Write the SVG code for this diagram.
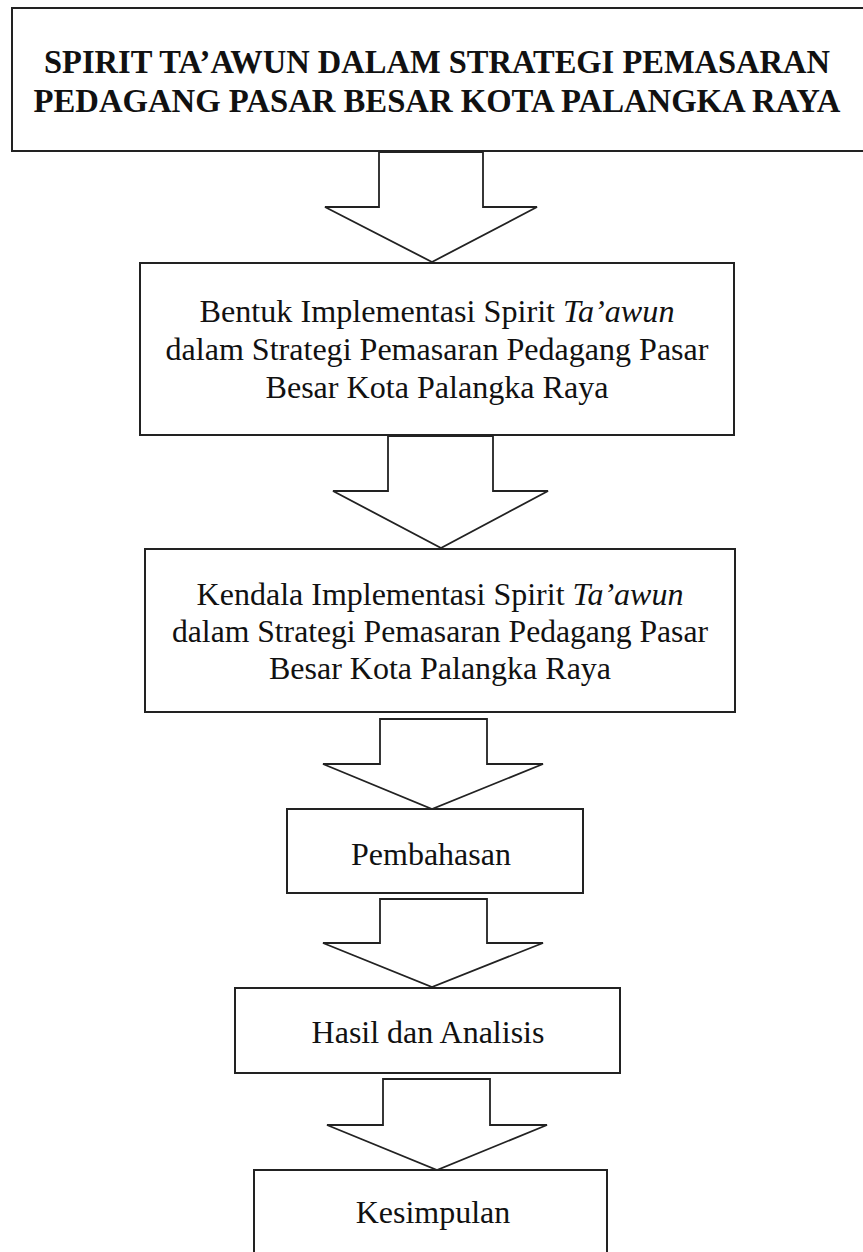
<svg xmlns="http://www.w3.org/2000/svg" width="863" height="1252" viewBox="0 0 863 1252">
<style>
.box{fill:#fff;stroke:#222;stroke-width:2}
.arr{fill:#fff;stroke:#222;stroke-width:1.8;stroke-linejoin:miter}
.t{font-family:"Liberation Serif","Times New Roman",serif;font-size:32px;fill:#111;text-anchor:middle}
.tb{font-family:"Liberation Serif","Times New Roman",serif;font-size:33.5px;font-weight:bold;fill:#111;text-anchor:middle}
.i{font-style:italic}
</style>
<rect x="0" y="0" width="863" height="1252" fill="#fff"/>
<g id="connectors">
<polygon class="arr" points="379,152 483,152 483,207 537,207 432,262 325,207 379,207"/>
<polygon class="arr" points="388,436 493,436 493,491 548,491 441,548 333,491 388,491"/>
<polygon class="arr" points="380,719 487,719 487,764 543,764 432,809 323,764 380,764"/>
<polygon class="arr" points="380,899 487,899 487,943 543,943 432,987 323,943 380,943"/>
<polygon class="arr" points="383,1079 490,1079 490,1125 547,1125 437,1170 327,1125 383,1125"/>
</g>
<g id="node1">
<rect class="box" x="12" y="8" width="853" height="143"/>
<text class="tb" x="437" y="73" textLength="786" lengthAdjust="spacingAndGlyphs">SPIRIT TA’AWUN DALAM STRATEGI PEMASARAN</text>
<text class="tb" x="437" y="112" textLength="807" lengthAdjust="spacingAndGlyphs">PEDAGANG PASAR BESAR KOTA PALANGKA RAYA</text>
</g>
<g id="node2">
<rect class="box" x="140" y="263" width="594" height="172"/>
<text class="t" x="437" y="322" textLength="475" lengthAdjust="spacingAndGlyphs">Bentuk Implementasi Spirit <tspan class="i">Ta’awun</tspan></text>
<text class="t" x="437" y="360" textLength="543" lengthAdjust="spacingAndGlyphs">dalam Strategi Pemasaran Pedagang Pasar</text>
<text class="t" x="437" y="398" textLength="343" lengthAdjust="spacingAndGlyphs">Besar Kota Palangka Raya</text>
</g>
<g id="node3">
<rect class="box" x="145" y="549" width="590" height="163"/>
<text class="t" x="440" y="605">Kendala Implementasi Spirit <tspan class="i">Ta’awun</tspan></text>
<text class="t" x="440" y="642" textLength="536" lengthAdjust="spacingAndGlyphs">dalam Strategi Pemasaran Pedagang Pasar</text>
<text class="t" x="440" y="679">Besar Kota Palangka Raya</text>
</g>
<g id="node4">
<rect class="box" x="287" y="809" width="296" height="84"/>
<text class="t" x="431" y="865">Pembahasan</text>
</g>
<g id="node5">
<rect class="box" x="235" y="988" width="385" height="85"/>
<text class="t" x="428" y="1043">Hasil dan Analisis</text>
</g>
<g id="node6">
<rect class="box" x="254" y="1170" width="353" height="100"/>
<text class="t" x="433" y="1223">Kesimpulan</text>
</g>
</svg>
